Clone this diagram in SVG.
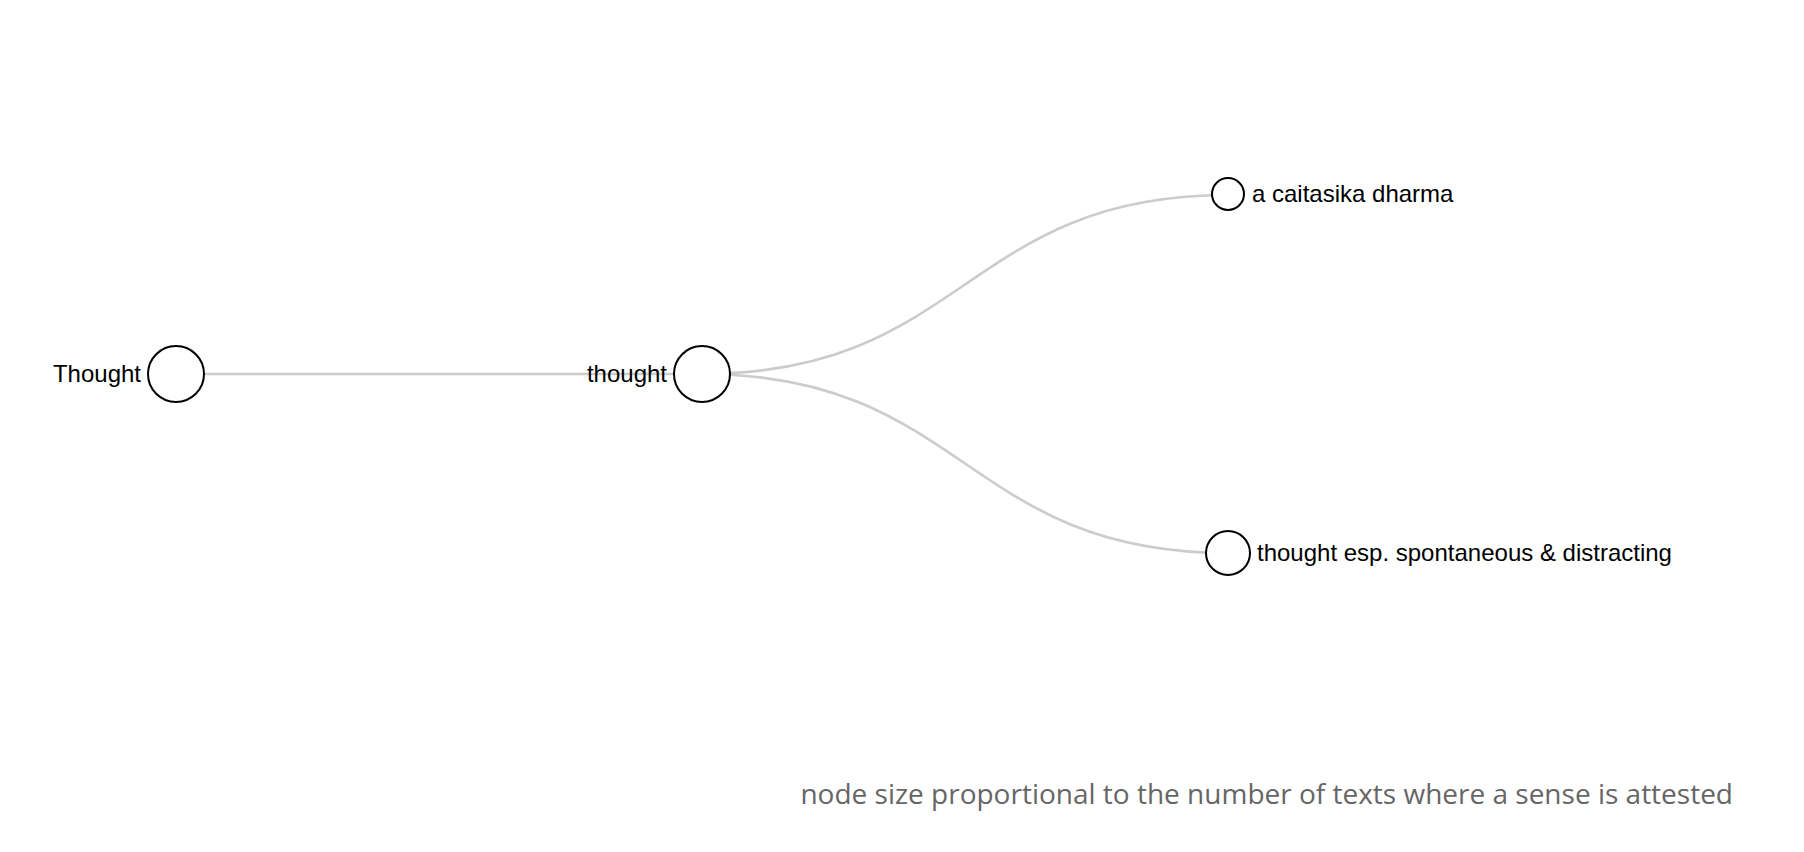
<svg xmlns="http://www.w3.org/2000/svg" width="1804" height="852" viewBox="0 0 1804 852">
<style>
.link{fill:none;stroke:#cccccc;stroke-width:2.7}
.node circle{fill:#ffffff;stroke:#000000;stroke-width:2}
.node text{font-family:"Liberation Sans",Arial,Helvetica,sans-serif;font-size:24px;fill:#000000}
.note{font-family:"Open Sans","Noto Sans",sans-serif;font-size:28px;fill:#666666}
</style>
<rect width="1804" height="852" fill="#ffffff"/>
<g id="links">
<path class="link" d="M176,374 L702,374"/>
<path class="link" d="M702,374 C965,374 965,195 1228,195"/>
<path class="link" d="M702,374 C965,374 965,553 1228,553"/>
</g>
<g id="node-Thought" class="node">
<circle cx="176" cy="374" r="28"/>
<text x="141" y="382" text-anchor="end">Thought</text>
</g>
<g id="node-thought" class="node">
<circle cx="702" cy="374" r="28"/>
<text x="667" y="382" text-anchor="end">thought</text>
</g>
<g id="node-caitasika" class="node">
<circle cx="1228" cy="194" r="16"/>
<text x="1252" y="202">a caitasika dharma</text>
</g>
<g id="node-spontaneous" class="node">
<circle cx="1228" cy="553" r="22"/>
<text x="1257" y="561">thought esp. spontaneous &amp; distracting</text>
</g>
<text class="note" x="1733" y="804" text-anchor="end">node size proportional to the number of texts where a sense is attested</text>
</svg>
